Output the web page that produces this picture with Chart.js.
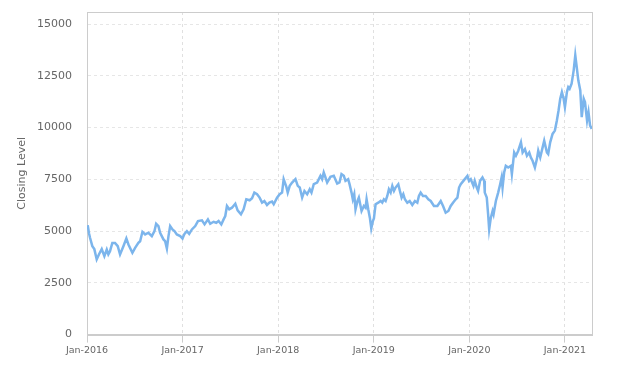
<!DOCTYPE html>
<html>
<head>
<meta charset="utf-8">
<script src="https://cdn.jsdelivr.net/npm/chart.js@4.4.0/dist/chart.umd.min.js"></script>
<style>
html,body{margin:0;padding:0;background:#fff;}
#wrap{width:631px;height:366px;position:relative;}
</style>
</head>
<body>
<div id="wrap"><canvas id="c" width="631" height="366"></canvas></div>
<script>
// months elapsed since 1 Jan 2016
const months = [0.09,0.25,0.38,0.67,0.92,1.22,1.51,1.85,2.18,2.48,2.68,2.89,3.18,3.52,3.86,4.15,4.57,4.94,5.20,5.70,6.04,6.45,6.67,6.96,7.30,7.71,8.14,8.47,8.68,8.97,9.18,9.60,9.81,10.03,10.23,10.44,10.73,10.98,11.28,11.70,11.99,12.24,12.54,12.83,13.17,13.59,13.93,14.43,14.76,15.18,15.47,15.89,16.23,16.52,16.86,17.15,17.36,17.57,17.86,18.20,18.62,18.91,19.33,19.66,20.00,20.42,20.72,21.01,21.35,21.67,21.98,22.27,22.60,22.90,23.23,23.44,23.86,24.19,24.49,24.69,25.03,25.20,25.45,25.75,26.17,26.46,26.71,27.01,27.30,27.64,27.96,28.18,28.47,28.89,29.31,29.52,29.72,29.94,30.15,30.56,30.98,31.41,31.70,31.95,32.24,32.45,32.79,32.96,33.21,33.37,33.55,33.71,33.96,34.13,34.47,34.76,34.97,35.10,35.31,35.51,35.69,35.89,36.02,36.23,36.57,36.86,37.07,37.27,37.49,37.70,37.90,38.12,38.33,38.54,38.74,39.08,39.28,39.50,39.71,39.91,40.21,40.51,40.84,41.17,41.47,41.67,41.89,42.18,42.52,42.85,43.15,43.56,43.99,44.41,44.70,45.03,45.37,45.66,45.95,46.29,46.50,46.71,46.92,47.33,47.76,47.96,48.18,48.52,48.68,48.93,49.10,49.35,49.65,49.86,49.94,50.19,50.36,50.49,50.70,50.92,51.04,51.33,51.62,51.87,52.05,52.17,52.37,52.58,52.88,53.22,53.34,53.63,53.85,54.14,54.48,54.69,54.98,55.23,55.52,55.72,55.94,56.23,56.48,56.65,56.90,57.20,57.40,57.74,57.90,58.15,58.45,58.74,58.99,59.20,59.41,59.62,59.84,60.00,60.25,60.42,60.59,60.84,61.10,61.30,61.48,61.68,61.93,62.11,62.36,62.52,62.78,62.96,63.16,63.37];
const closing = [5290,4900,4675,4270,4130,3630,3880,4130,3790,4110,3880,4030,4430,4430,4270,3870,4270,4645,4354,3950,4190,4430,4510,4966,4840,4920,4757,5000,5354,5240,4920,4597,4514,4160,4757,5242,5080,5000,4840,4757,4645,4869,5000,4869,5081,5242,5485,5518,5325,5566,5354,5450,5403,5485,5320,5566,5728,6213,6053,6130,6325,6004,5810,6050,6537,6490,6587,6859,6781,6617,6373,6456,6262,6373,6422,6295,6617,6781,6860,7509,7135,6860,7184,7344,7509,7184,7103,6617,6941,6781,7022,6860,7266,7344,7669,7509,7830,7588,7344,7621,7669,7296,7350,7752,7669,7427,7510,7266,6859,6537,6781,6053,6457,6617,5970,6213,6130,6537,6053,5648,5130,5485,5615,6295,6373,6456,6373,6537,6456,6698,7022,6859,7184,6941,7103,7266,6941,6617,6781,6537,6373,6456,6262,6456,6373,6698,6859,6698,6698,6537,6456,6213,6213,6456,6213,5888,5970,6213,6373,6537,6617,7103,7266,7461,7669,7427,7509,7184,7427,7103,6941,7427,7588,7427,6859,6617,5810,5081,5648,5970,5810,6456,6859,7266,7588,7103,7830,8155,8074,8155,7750,8800,8640,8883,9286,8800,8963,8640,8800,8558,8398,8074,8478,8883,8558,9043,9368,8800,8722,9286,9694,9854,10339,10824,11392,11713,11390,10985,11713,11955,11875,12121,12766,13494,12927,12281,11795,10500,11392,11230,10339,10742,10096,9936];
const xTickMonths = [0,12,24,36,48,60];
const xTickLabels = ['Jan-2016','Jan-2017','Jan-2018','Jan-2019','Jan-2020','Jan-2021'];
const yTicks = [0,2500,5000,7500,10000,12500,15000];
const yTitle = 'Closing Level';

const points = months.map((m,i)=>({x:m,y:closing[i]}));

const boxPlugin = {
  id:'box',
  beforeDatasetsDraw(chart){
    const a = chart.chartArea, ctx = chart.ctx;
    ctx.save();
    ctx.strokeStyle = '#cccccc';
    ctx.lineWidth = 1;
    ctx.strokeRect(Math.round(a.left)+0.5, Math.round(a.top)+0.5, Math.round(a.right-a.left), Math.round(a.bottom-a.top));
    ctx.restore();
  }
};

new Chart(document.getElementById('c'), {
  type:'line',
  data:{datasets:[{data:points, borderColor:'#7cb5ec', borderWidth:2.5, pointRadius:0, tension:0, fill:false}]},
  options:{
    responsive:false,
    animation:false,
    layout:{padding:{left:12,right:39,top:12,bottom:8}},
    plugins:{legend:{display:false},tooltip:{enabled:false}},
    scales:{
      x:{
        type:'linear', min:0, max:63.4,
        afterBuildTicks(s){ s.ticks = xTickMonths.map(v=>({value:v})); },
        ticks:{callback:(v)=>{const i=xTickMonths.indexOf(v);return i>=0?xTickLabels[i]:'';}, color:'#666666', font:{family:'DejaVu Sans',size:9.5}, padding:2, maxRotation:0, autoSkip:false},
        grid:{color:'#e0e0e0', tickColor:'#cccccc', tickLength:8, drawTicks:true},
        border:{display:true,color:'#cccccc',dash:[3,3]}
      },
      y:{
        type:'linear', min:0, max:15583,
        afterBuildTicks(s){ s.ticks = yTicks.map(v=>({value:v})); },
        afterFit(s){ s.width = 75; s.paddingTop = 0; s.paddingBottom = 0; },
        ticks:{callback:(v)=>String(v), color:'#666666', font:{family:'DejaVu Sans',size:11}, padding:15},
        grid:{color:'#e6e6e6', drawTicks:false},
        border:{display:true,color:'#cccccc',dash:[3,3]},
        title:{display:true,text:yTitle,color:'#666666',font:{family:'DejaVu Sans',size:11}}
      }
    }
  },
  plugins:[boxPlugin]
});
</script>
</body>
</html>
